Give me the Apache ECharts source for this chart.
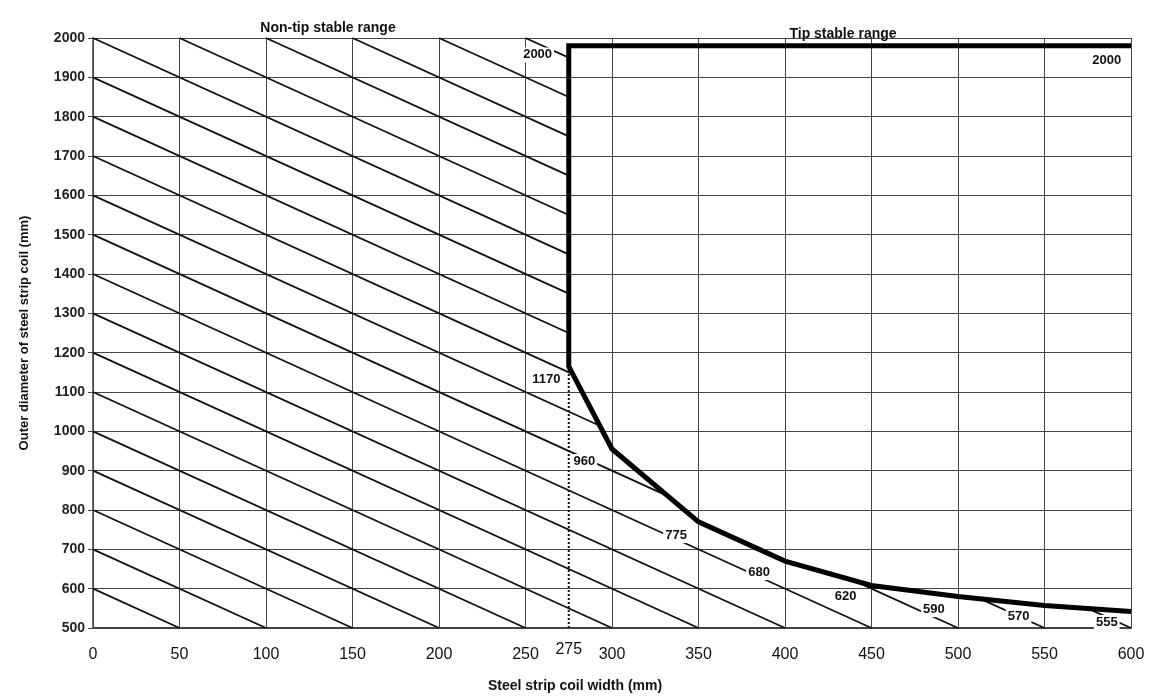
<!DOCTYPE html>
<html>
<head>
<meta charset="utf-8">
<script src="https://cdn.jsdelivr.net/npm/echarts@6/dist/echarts.min.js"></script>
<style>
  html, body { margin: 0; padding: 0; background: #fff; }
  #main { width: 1155px; height: 697px; }
</style>
</head>
<body>
<div id="main"></div>
<script>
// limit curve (tip stable boundary)
const limitWidths = [275, 300, 350, 400, 450, 500, 550, 600];
const limitDiameters = [1165, 955, 770, 670, 608, 580, 557, 542];
const topDiameter = 1980;
// hatch lines: diameter + 2*width = const
const hatchConsts = [600, 700, 800, 900, 1000, 1100, 1200, 1300, 1400, 1500, 1600, 1700, 1800, 1900, 2000, 2100, 2200, 2300, 2400, 2500];
// value labels [width, diameter, text]
const valueLabels = [
  [257, 1957, '2000'],
  [262, 1131, '1170'],
  [284, 923, '960'],
  [337, 735, '775'],
  [385, 641, '680'],
  [435, 580, '620'],
  [486, 547, '590'],
  [535, 529, '570'],
  [586, 514, '555'],
  [586, 1944, '2000']
];
const xMin = 0, xMax = 600, yMin = 500, yMax = 2000;
const splitWidth = 275;

const font = "'Liberation Sans', Arial, sans-serif";

// curve value at x (x >= 275)
function curveAt(x) {
  for (let i = 0; i < limitWidths.length - 1; i++) {
    if (x >= limitWidths[i] && x <= limitWidths[i + 1]) {
      const t = (x - limitWidths[i]) / (limitWidths[i + 1] - limitWidths[i]);
      return limitDiameters[i] + t * (limitDiameters[i + 1] - limitDiameters[i]);
    }
  }
  return limitDiameters[limitDiameters.length - 1];
}

function hatchSegments(C) {
  const g = x => C - 2 * x;
  const x0 = Math.max(xMin, (C - yMax) / 2);
  const x1 = Math.min(xMax, (C - yMin) / 2);
  if (x1 <= splitWidth) return [[x0, x1]];
  const cuts = [splitWidth];
  for (let i = 0; i < limitWidths.length - 1; i++) {
    const xa = limitWidths[i], xb = limitWidths[i + 1];
    const ha = g(xa) - limitDiameters[i], hb = g(xb) - limitDiameters[i + 1];
    if (ha * hb < 0) {
      const xr = xa + (xb - xa) * ha / (ha - hb);
      if (xr > splitWidth && xr < x1) cuts.push(xr);
    }
  }
  cuts.push(x1);
  const segs = [[x0, splitWidth]];
  for (let i = 0; i < cuts.length - 1; i++) {
    const a = cuts[i], b = cuts[i + 1];
    const m = (a + b) / 2;
    if (g(m) < curveAt(m)) {
      const last = segs[segs.length - 1];
      if (Math.abs(last[1] - a) < 1e-6) last[1] = b;
      else segs.push([a, b]);
    }
  }
  return segs;
}

const hatchSeries = [];
hatchConsts.forEach(C => {
  hatchSegments(C).forEach(([a, b]) => {
    hatchSeries.push({
      type: 'line',
      data: [[a, C - 2 * a], [b, C - 2 * b]],
      symbol: 'none',
      silent: true,
      lineStyle: { color: '#111', width: 1.8 },
      z: 3
    });
  });
});

const boundary = [[xMax, topDiameter], [splitWidth, topDiameter]]
  .concat(limitWidths.map((w, i) => [w, limitDiameters[i]]));

const chart = echarts.init(document.getElementById('main'));
chart.setOption({
  animation: false,
  backgroundColor: '#fff',
  grid: { left: 93, right: 24, top: 38, bottom: 69 },
  title: [
    { text: 'Non-tip stable range', left: 323, top: 16, textAlign: 'center',
      textStyle: { fontFamily: font, fontSize: 14, fontWeight: 'bold', color: '#111' } },
    { text: 'Tip stable range', left: 838, top: 22, textAlign: 'center',
      textStyle: { fontFamily: font, fontSize: 14, fontWeight: 'bold', color: '#111' } },
    { text: 'Steel strip coil width (mm)', left: 570, top: 674, textAlign: 'center',
      textStyle: { fontFamily: font, fontSize: 14, fontWeight: 'bold', color: '#111' } }
  ],
  xAxis: {
    type: 'value', min: xMin, max: xMax, interval: 50,
    axisLine: { show: true, onZero: false, lineStyle: { color: '#444', width: 2 } },
    axisTick: { show: false },
    axisLabel: { margin: 19, fontFamily: "'Liberation Sans Narrow', " + font, fontSize: 16, color: '#111' },
    splitLine: { show: true, lineStyle: { color: '#444', width: 1 } }
  },
  yAxis: {
    type: 'value', min: yMin, max: yMax, interval: 100,
    name: 'Outer diameter of steel strip coil (mm)',
    nameLocation: 'middle', nameGap: 62, nameRotate: 90,
    nameTextStyle: { fontFamily: font, fontSize: 13, fontWeight: 'bold', color: '#111' },
    axisLine: { show: true, lineStyle: { color: '#444', width: 1.5 } },
    axisTick: { show: true, length: 5, lineStyle: { color: '#444' } },
    axisLabel: { margin: 8, fontFamily: font, fontSize: 14, fontWeight: 'bold', color: '#222',
      formatter: v => String(v) },
    splitLine: { show: true, lineStyle: { color: '#444', width: 1 } }
  },
  series: hatchSeries.concat([
    {
      type: 'line',
      data: [[splitWidth, yMin], [splitWidth, limitDiameters[0]]],
      symbol: 'none', silent: true,
      lineStyle: { color: '#111', width: 2, type: [2, 2] },
      z: 4
    },
    {
      type: 'line',
      data: boundary,
      symbol: 'none', silent: true,
      lineStyle: { color: '#000', width: 5, join: 'miter' },
      z: 6
    },
    {
      type: 'scatter',
      data: valueLabels.map(v => ({ value: [v[0], v[1]], name: v[2] })),
      symbolSize: 0, silent: true,
      itemStyle: { opacity: 1 },
      label: {
        show: true, position: 'inside',
        formatter: p => p.name,
        fontFamily: font, fontSize: 13, fontWeight: 'bold', color: '#111',
        backgroundColor: '#fff', padding: [1, 2]
      },
      z: 8
    },
    {
      type: 'scatter',
      data: [{ value: [splitWidth, yMin], name: '275' }],
      symbolSize: 0, silent: true,
      itemStyle: { opacity: 1 },
      label: {
        show: true, position: 'inside', offset: [0, 22],
        formatter: p => p.name,
        fontFamily: "'Liberation Sans Narrow', " + font, fontSize: 16, color: '#111'
      },
      z: 8
    }
  ])
});
</script>
</body>
</html>
